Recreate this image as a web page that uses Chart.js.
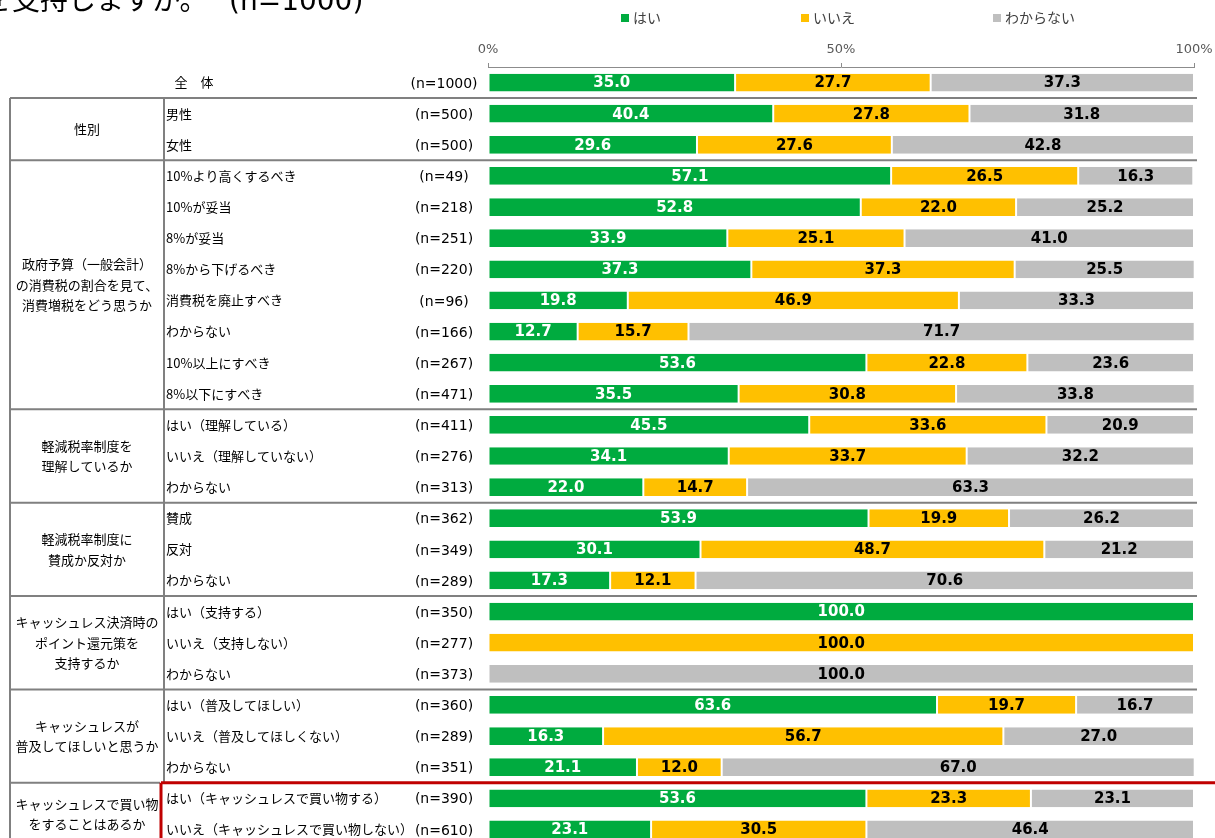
<!DOCTYPE html>
<html>
<head>
<meta charset="utf-8">
<script src="https://cdn.jsdelivr.net/npm/chart.js@4/dist/chart.umd.min.js"></script>
<style>
  html, body { margin: 0; padding: 0; background: #fff; overflow: hidden; }
  #wrap { width: 1215px; height: 850px; }
</style>
</head>
<body>
<div id="wrap"><canvas id="support-chart"></canvas></div>
<script>
// row labels (sub categories) and sample sizes
const categories = [
    '全　体',
    '男性', '女性',
    '10%より高くするべき', '10%が妥当', '8%が妥当', '8%から下げるべき', '消費税を廃止すべき', 'わからない', '10%以上にすべき', '8%以下にすべき',
    'はい（理解している）', 'いいえ（理解していない）', 'わからない',
    '賛成', '反対', 'わからない',
    'はい（支持する）', 'いいえ（支持しない）', 'わからない',
    'はい（普及してほしい）', 'いいえ（普及してほしくない）', 'わからない',
    'はい（キャッシュレスで買い物する）', 'いいえ（キャッシュレスで買い物しない）'
];
const nLabels = [
    '(n=1000)',
    '(n=500)', '(n=500)',
    '(n=49)', '(n=218)', '(n=251)', '(n=220)', '(n=96)', '(n=166)', '(n=267)', '(n=471)',
    '(n=411)', '(n=276)', '(n=313)',
    '(n=362)', '(n=349)', '(n=289)',
    '(n=350)', '(n=277)', '(n=373)',
    '(n=360)', '(n=289)', '(n=351)',
    '(n=390)', '(n=610)'
];

// series values (%)
const yesValues = [35.0, 40.4, 29.6, 57.1, 52.8, 33.9, 37.3, 19.8, 12.7, 53.6, 35.5, 45.5, 34.1, 22.0, 53.9, 30.1, 17.3, 100.0, null, null, 63.6, 16.3, 21.1, 53.6, 23.1];
const noValues  = [27.7, 27.8, 27.6, 26.5, 22.0, 25.1, 37.3, 46.9, 15.7, 22.8, 30.8, 33.6, 33.7, 14.7, 19.9, 48.7, 12.1, null, 100.0, null, 19.7, 56.7, 12.0, 23.3, 30.5];
const dkValues  = [37.3, 31.8, 42.8, 16.3, 25.2, 41.0, 25.5, 33.3, 71.7, 23.6, 33.8, 20.9, 32.2, 63.3, 26.2, 21.2, 70.6, null, null, 100.0, 16.7, 27.0, 67.0, 23.1, 46.4];

// group labels (lines) and how many rows each covers, after the 全体 row
const groupLabels = [
    ['性別'],
    ['政府予算（一般会計）', 'の消費税の割合を見て、', '消費増税をどう思うか'],
    ['軽減税率制度を', '理解しているか'],
    ['軽減税率制度に', '賛成か反対か'],
    ['キャッシュレス決済時の', 'ポイント還元策を', '支持するか'],
    ['キャッシュレスが', '普及してほしいと思うか'],
    ['キャッシュレスで買い物', 'をすることはあるか']
];
const groupRowCounts = [2, 8, 3, 3, 3, 3, 2];

const seriesNames = ['はい', 'いいえ', 'わからない'];
const seriesColors = ['#00AB3F', '#FFC000', '#BFBFBF'];
const labelColors = ['#ffffff', '#000000', '#000000'];

const JP = "'Noto Sans CJK JP', 'Noto Sans', sans-serif";
const LATIN = "'DejaVu Sans', sans-serif";
Chart.defaults.font.family = JP;

// draws the title, legend, the table on the left, separators and value labels
const tablePlugin = {
    id: 'tablePlugin',
    afterDraw(chart) {
        const ctx = chart.ctx;
        const y = chart.scales.y;
        const W = chart.width, H = chart.height;
        const rowY = i => y.getPixelForValue(i);
        const between = i => (rowY(i) + rowY(i + 1)) / 2;

        ctx.save();

        // title (cut off at the top left)
        ctx.fillStyle = '#000';
        ctx.font = '28px ' + JP;
        ctx.textBaseline = 'alphabetic';
        ctx.textAlign = 'right';
        ctx.fillText('キャッシュレス決済時のポイント還元策を', 12, 10);
        ctx.textAlign = 'left';
        ctx.fillText('支持しますか。', 12, 10);
        ctx.font = '28px ' + LATIN;
        ctx.fillText('(n=1000)', 229, 10);

        // legend
        const legendX = [621, 801, 993];
        ctx.font = '14px ' + JP;
        ctx.textBaseline = 'middle';
        seriesNames.forEach((name, k) => {
            ctx.fillStyle = seriesColors[k];
            ctx.fillRect(legendX[k], 14, 8, 8);
            ctx.fillStyle = '#404040';
            ctx.fillText(name, legendX[k] + 12, 18);
        });

        // separators
        const bounds = [0];
        let r = 1;
        groupRowCounts.forEach(c => { r += c; bounds.push(r - 1); });
        const redRow = categories.length - groupRowCounts[groupRowCounts.length - 1] - 1;
        const topY = between(0);
        const redY = between(redRow);

        ctx.strokeStyle = '#808080';
        ctx.lineWidth = 2;
        ctx.beginPath();
        bounds.slice(0, bounds.length - 1).forEach(b => {
            const ly = between(b);
            ctx.moveTo(10, ly);
            ctx.lineTo(b === redRow ? 160 : 1197, ly);
        });
        ctx.moveTo(10, topY); ctx.lineTo(10, H);
        ctx.moveTo(164, topY); ctx.lineTo(164, redY);
        ctx.stroke();

        ctx.strokeStyle = '#C00000';
        ctx.lineWidth = 3;
        ctx.beginPath();
        ctx.moveTo(161, redY); ctx.lineTo(W, redY);
        ctx.moveTo(161, redY); ctx.lineTo(161, H);
        ctx.stroke();

        // row labels and n
        ctx.fillStyle = '#000';
        ctx.textBaseline = 'middle';
        categories.forEach((c, i) => {
            ctx.font = '13px ' + JP;
            if (i === 0) {
                ctx.textAlign = 'center';
                ctx.fillText(c, 194, rowY(i));
            } else {
                ctx.textAlign = 'left';
                ctx.fillText(c, 166, rowY(i));
            }
            ctx.font = '14px ' + LATIN;
            ctx.textAlign = 'center';
            ctx.fillText(nLabels[i], 444, rowY(i) + 1.5);
        });

        // group labels
        ctx.font = '13px ' + JP;
        ctx.textAlign = 'center';
        let start = 1;
        groupLabels.forEach((lines, g) => {
            const end = start + groupRowCounts[g] - 1;
            const cy = (rowY(start) + rowY(end)) / 2;
            const lh = 20.5;
            lines.forEach((t, k) => {
                ctx.fillText(t, 87, cy + (k - (lines.length - 1) / 2) * lh);
            });
            start = end + 1;
        });

        // value labels inside bars
        ctx.font = 'bold 15px ' + LATIN;
        ctx.textAlign = 'center';
        chart.data.datasets.forEach((ds, d) => {
            const meta = chart.getDatasetMeta(d);
            meta.data.forEach((el, i) => {
                const v = ds.data[i];
                if (v === null || v === undefined) return;
                ctx.fillStyle = labelColors[d];
                ctx.fillText(v.toFixed(1), (el.x + el.base) / 2, el.y + 1);
            });
        });

        ctx.restore();
    }
};

const supportCtx = document.getElementById('support-chart').getContext('2d');

new Chart(supportCtx, {
    type: 'bar',
    data: {
        labels: categories,
        datasets: [
            { label: seriesNames[0], data: yesValues, backgroundColor: seriesColors[0] },
            { label: seriesNames[1], data: noValues, backgroundColor: seriesColors[1] },
            { label: seriesNames[2], data: dkValues, backgroundColor: seriesColors[2] }
        ]
    },
    options: {
        indexAxis: 'y',
        responsive: true,
        maintainAspectRatio: false,
        animation: false,
        layout: { padding: { left: 488, right: 21, top: 30, bottom: 5 } },
        datasets: {
            bar: {
                categoryPercentage: 1,
                barPercentage: 0.57,
                borderColor: '#ffffff',
                borderWidth: { left: 1, right: 1, top: 0, bottom: 0 },
                borderSkipped: false
            }
        },
        plugins: {
            legend: { display: false },
            tooltip: { enabled: false }
        },
        scales: {
            x: {
                position: 'top',
                stacked: true,
                min: 0,
                max: 100,
                ticks: {
                    stepSize: 50,
                    callback: v => v + '%',
                    color: '#595959',
                    font: { size: 13, family: LATIN },
                    padding: 6,
                    maxRotation: 0
                },
                grid: { drawOnChartArea: false, drawTicks: true, tickLength: 4, color: '#8c8c8c' },
                border: { display: true, color: '#8c8c8c', width: 1 },
                afterFit: s => {
                    s.height = 37;
                    s.paddingLeft = 0;
                    s.paddingRight = 0;
                }
            },
            y: {
                stacked: true,
                display: false
            }
        }
    },
    plugins: [tablePlugin]
});
</script>
</body>
</html>
